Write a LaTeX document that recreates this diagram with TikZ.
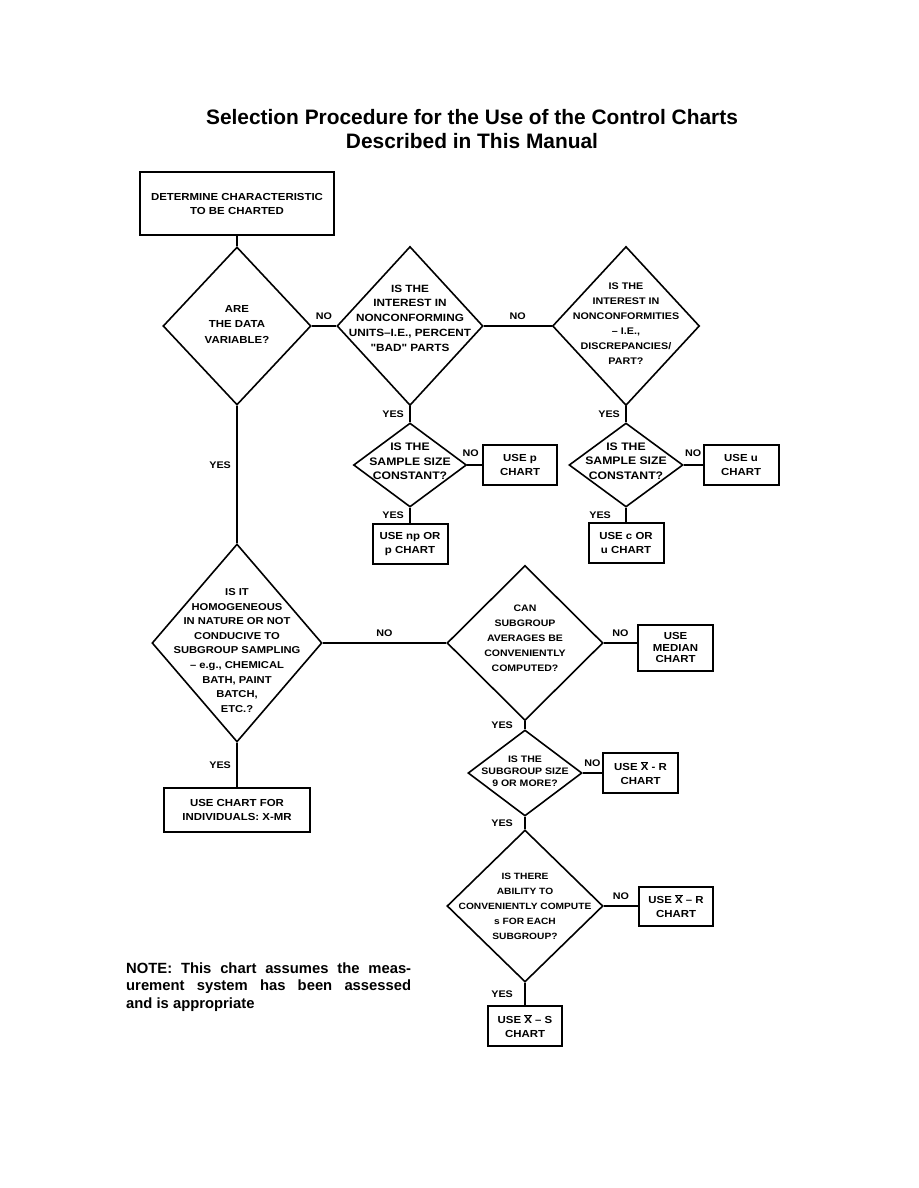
\documentclass[tikz,border=0pt]{standalone}
\usepackage{fontspec}
\setmainfont{Liberation Sans}
\newfontfamily\chartfont{Liberation Sans}[FakeStretch=1.12]
\newcommand\cf[2]{\fontsize{#1}{#2}\selectfont\chartfont\bfseries}
\usetikzlibrary{shapes.geometric}

\begin{document}
\begin{tikzpicture}[
    x=1pt, y=-1pt,
    every node/.style={font=\bfseries},
    decision/.style={diamond, draw, line width=1.6pt, inner sep=0pt},
    qtext/.style={align=center, inner sep=0pt, font=\cf{10.3}{15}},
    chartbox/.style={draw, line width=2pt, inner sep=0pt, align=center, font=\cf{10.2}{14}},
    flow/.style={line width=2.2pt},
    lbl/.style={inner sep=5pt, font=\cf{9.6}{12}}
]
    \useasboundingbox (0,0) rectangle (918,1188);

    \node[align=center, font=\fontsize{20.9}{24}\selectfont\bfseries] (title) at (472,129)
        {Selection Procedure for the Use of the Control Charts\\Described in This Manual};

    % first column
    \node[chartbox, minimum width=194, minimum height=63] (start) at (237,203.5)
        {DETERMINE CHARACTERISTIC\\TO BE CHARTED};
    \node[decision, minimum width=148, minimum height=158,
          label={[qtext, yshift=2pt, font=\cf{10.2}{15.5}]center:{ARE\\THE DATA\\VARIABLE?}}] (data) at (237,326) {};
    \node[decision, minimum width=170, minimum height=198,
          label={[qtext, yshift=-7.5pt, font=\cf{10}{14.6}]center:{IS IT\\HOMOGENEOUS\\IN NATURE OR NOT\\CONDUCIVE TO\\SUBGROUP SAMPLING\\– e.g., CHEMICAL\\BATH, PAINT\\BATCH,\\ETC.?}}] (homog) at (237,643) {};
    \node[chartbox, minimum width=146, minimum height=44] (indiv) at (237,810)
        {USE CHART FOR\\INDIVIDUALS: X-MR};

    % attribute data
    \node[decision, minimum width=146, minimum height=159,
          label={[qtext, yshift=8pt, font=\cf{10.5}{14.8}]center:{IS THE\\INTEREST IN\\NONCONFORMING\\UNITS–I.E., PERCENT\\"BAD" PARTS}}] (units) at (410,326) {};
    \node[decision, minimum width=113, minimum height=84,
          label={[qtext, yshift=3.5pt, font=\cf{10.9}{14.6}]center:{IS THE\\SAMPLE SIZE\\CONSTANT?}}] (sizeP) at (410,465) {};
    \node[chartbox, minimum width=74, minimum height=40] (useP) at (520,465) {USE p\\CHART};
    \node[chartbox, minimum width=75, minimum height=40] (useNP) at (410,544) {USE np OR\\p CHART};

    \node[decision, minimum width=147, minimum height=159,
          label={[qtext, yshift=2.5pt, font=\cf{9.6}{15}]center:{IS THE\\INTEREST IN\\NONCONFORMITIES\\– I.E.,\\DISCREPANCIES/\\PART?}}] (nonconf) at (626,326) {};
    \node[decision, minimum width=114, minimum height=84,
          label={[qtext, yshift=4pt, font=\cf{10.9}{14.6}]center:{IS THE\\SAMPLE SIZE\\CONSTANT?}}] (sizeU) at (626,465) {};
    \node[chartbox, minimum width=75, minimum height=40] (useU) at (741,465) {USE u\\CHART};
    \node[chartbox, minimum width=75, minimum height=40] (useC) at (626,543) {USE c OR\\u CHART};

    % subgroup data
    \node[decision, minimum width=156, minimum height=155,
          label={[qtext, yshift=5pt, font=\cf{9.4}{15}]center:{CAN\\SUBGROUP\\AVERAGES BE\\CONVENIENTLY\\COMPUTED?}}] (avg) at (525,643) {};
    \node[chartbox, minimum width=75, minimum height=46,
          font=\cf{10.2}{11.7}] (median) at (675.5,647.5) {USE\\MEDIAN\\CHART};
    \node[decision, minimum width=114, minimum height=86,
          label={[qtext, yshift=2pt, font=\cf{9.4}{12}]center:{IS THE\\SUBGROUP SIZE\\9 OR MORE?}}] (nine) at (525,773) {};
    \node[chartbox, minimum width=75, minimum height=40] (xrA) at (640.5,773)
        {USE $\overline{\mbox{X}}$ - R\\CHART};
    \node[decision, minimum width=156, minimum height=152,
          label={[qtext, font=\cf{9.1}{15}]center:{IS THERE\\ABILITY TO\\CONVENIENTLY COMPUTE\\s FOR EACH\\SUBGROUP?}}] (sdev) at (525,906) {};
    \node[chartbox, minimum width=74, minimum height=39] (xrB) at (676,906)
        {USE $\overline{\mbox{X}}$ – R\\CHART};
    \node[chartbox, minimum width=74, minimum height=40] (xs) at (525,1026)
        {USE $\overline{\mbox{X}}$ – S\\CHART};

    \node[anchor=north west, inner sep=0pt, align=left, font=\fontsize{14.8}{17.5}\selectfont\bfseries] (note) at (126,962.5)
        {\makebox[285pt][s]{NOTE: This chart assumes the meas-}\\
         \makebox[285pt][s]{urement system has been assessed}\\
         and is appropriate};

    \draw[flow] (start) -- (data);
    \draw[flow] (data) -- node[lbl, above] {NO} (units);
    \draw[flow] (units) -- node[lbl, above] {NO} (nonconf);
    \draw[flow] (units) -- node[lbl, left] {YES} (sizeP);
    \draw[flow] (sizeP) -- node[lbl, above, xshift=-4pt, yshift=2pt] {NO} (useP);
    \draw[flow] (sizeP) -- node[lbl, left] {YES} (useNP);
    \draw[flow] (nonconf) -- node[lbl, left] {YES} (sizeU);
    \draw[flow] (sizeU) -- node[lbl, above, yshift=2pt] {NO} (useU);
    \draw[flow] (sizeU) -- node[lbl, left, xshift=-9pt] {YES} (useC);
    \draw[flow] (data) -- node[lbl, left, pos=0.43] {YES} (homog);
    \draw[flow] (homog) -- node[lbl, above] {NO} (avg);
    \draw[flow] (homog) -- node[lbl, left] {YES} (indiv);
    \draw[flow] (avg.east) -- node[lbl, above] {NO} (avg.east -| median.west);
    \draw[flow] (avg) -- node[lbl, left, xshift=-6pt] {YES} (nine);
    \draw[flow] (nine) -- node[lbl, above] {NO} (xrA);
    \draw[flow] (nine) -- node[lbl, left, xshift=-6pt] {YES} (sdev);
    \draw[flow] (sdev) -- node[lbl, above] {NO} (xrB);
    \draw[flow] (sdev) -- node[lbl, left, xshift=-6pt] {YES} (xs);
\end{tikzpicture}
\end{document}
